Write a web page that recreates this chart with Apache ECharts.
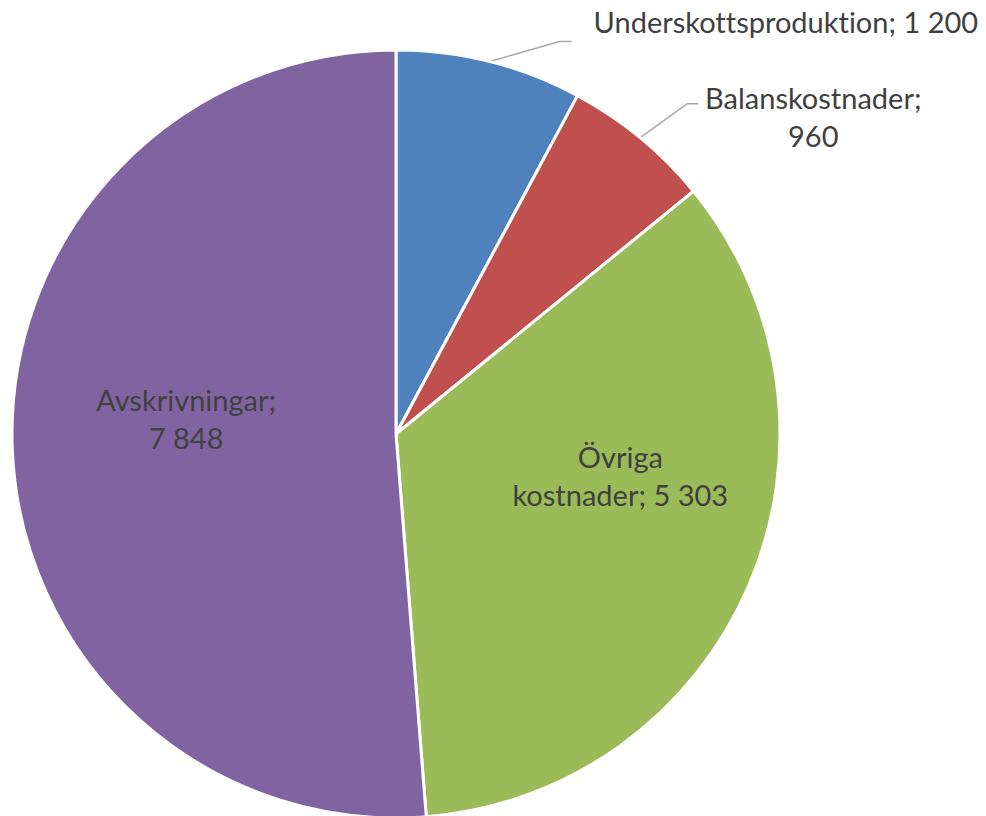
<!DOCTYPE html>
<html>
<head>
<meta charset="utf-8">
<script src="https://cdn.jsdelivr.net/npm/echarts@6/dist/echarts.min.js"></script>
<style>
  html, body { margin: 0; padding: 0; background: #fff; }
  #chart { width: 986px; height: 816px; }
  #chart text { font-variant-ligatures: none; }
</style>
</head>
<body>
<div id="chart"></div>
<script>
// data
var names = ['Underskottsproduktion', 'Balanskostnader', 'Övriga kostnader', 'Avskrivningar'];
var values = [1200, 960, 5303, 7848];
var colors = ['#4F81BD', '#C0504D', '#9BBB59', '#8064A2'];
// how each label wraps
var labelText = [
  'Underskottsproduktion; {v}',
  'Balanskostnader;\n{v}',
  'Övriga\nkostnader; {v}',
  'Avskrivningar;\n{v}'
];

function fmt(v) {
  return String(v).replace(/\B(?=(\d{3})+(?!\d))/g, ' ');
}

var chart = echarts.init(document.getElementById('chart'), null, { renderer: 'svg' });

var data = names.map(function (n, i) {
  var inside = i >= 2;
  return {
    name: n,
    value: values[i],
    itemStyle: { color: colors[i] },
    label: { position: inside ? 'inside' : 'outside' },
    labelLine: { show: !inside }
  };
});

var option = {
  animation: false,
  series: [{
    type: 'pie',
    center: [396, 434],
    radius: 384,
    startAngle: 90,
    clockwise: true,
    itemStyle: { borderColor: '#fff', borderWidth: 3 },
    label: {
      color: '#404040',
      fontFamily: 'Lato',
      fontSize: 29,
      lineHeight: 38,
      align: 'center',
      formatter: function (p) {
        return labelText[p.dataIndex].replace('{v}', fmt(p.value));
      }
    },
    labelLine: {
      lineStyle: { color: '#A6A6A6', width: 1.5 }
    },
    labelLayout: function (p) {
      var i = p.dataIndex;
      if (i >= 2) {
        // inside labels: small nudge
        var nudges = [null, null, [45, -35], [-15, -23]];
        return { dx: nudges[i][0], dy: nudges[i][1] };
      }
      // outside labels: leader line bends, offsets from the slice edge point
      var e = p.labelLinePoints[0];
      var bend = [[70, -20, 82, -20], [47, -34, 58, -34]][i];
      var pos = [[104, -40, 'left'], [173, -21, 'center']][i];
      return {
        x: e[0] + pos[0],
        y: e[1] + pos[1],
        align: pos[2],
        verticalAlign: 'middle',
        labelLinePoints: [
          [e[0], e[1]],
          [e[0] + bend[0], e[1] + bend[1]],
          [e[0] + bend[2], e[1] + bend[3]]
        ]
      };
    },
    data: data
  }]
};

chart.setOption(option);
</script>
</body>
</html>
